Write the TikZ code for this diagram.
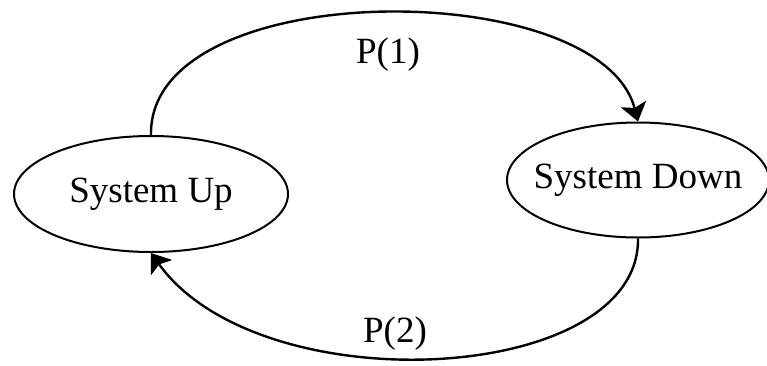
\documentclass[tikz,border=0pt]{standalone}
\usepackage{fontspec}
\setmainfont{Liberation Serif}
\usetikzlibrary{shapes.geometric,arrows.meta,positioning}

\begin{document}
\begin{tikzpicture}[
    x=0.5pt, y=-0.5pt,
    sysstate/.style={ellipse, draw, line width=1pt, inner sep=0pt,
                 minimum width=137pt, minimum height=58pt, font=\fontsize{18.5}{22}\selectfont},
    arr/.style={-{Stealth[length=9pt, width=13pt, inset=2pt]}, line width=1.2pt},
    prob/.style={anchor=base, font=\fontsize{18.5}{22}\selectfont}
]
    \useasboundingbox (0,0) rectangle (767,365);

    \node[sysstate] (up) at (151,194) {System Up};
    \node[sysstate, inner xsep=-6.5pt, minimum width=131pt, minimum height=57.5pt] (down) at (638,180) {System Down};

    \draw[arr] (up.north) .. controls (148,-25) and (600,-25) .. (down.north);
    \draw[arr] (down.south) .. controls (640,385) and (260,405) .. (up.south);

    \node[prob] (p1) at (388,63) {P(1)};
    \node[prob] (p2) at (395,342) {P(2)};
\end{tikzpicture}
\end{document}
